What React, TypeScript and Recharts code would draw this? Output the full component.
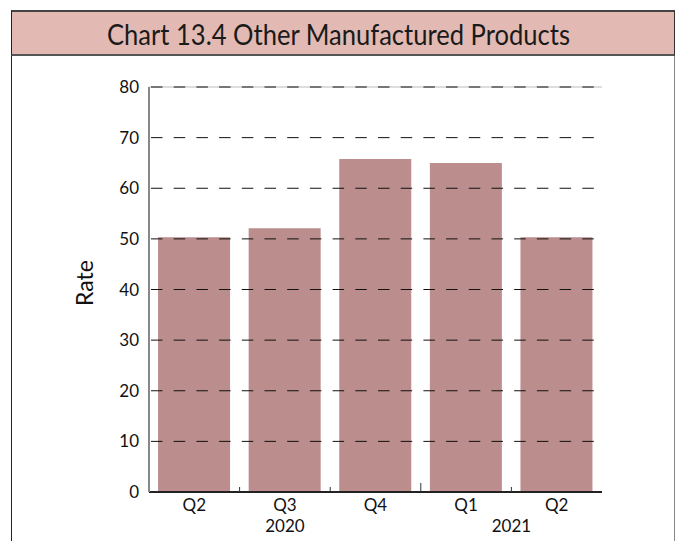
import React from 'react'
import { BarChart, Bar, XAxis, YAxis, ReferenceLine } from 'recharts'

// quarters along the bottom, with the year under them
const quarters = ['Q2', 'Q3', 'Q4', 'Q1', 'Q2']
const years = ['', '2020', '', '', '2021']
const rates = [50.3, 52.1, 65.8, 65.0, 50.3]
const yTicks = [0, 10, 20, 30, 40, 50, 60, 70, 80]

const data = quarters.map((q, i) => ({ key: `${q}-${i}`, q, year: years[i], rate: rates[i] }))

const FONT = 'Lato, "Open Sans", sans-serif'
const W = 678
const H = 541
const PLOT_LEFT = 149
const PLOT_RIGHT = 602
const PLOT_TOP = 87
const PLOT_BOTTOM = 492
const BAND = (PLOT_RIGHT - PLOT_LEFT) / quarters.length

function QuarterTick(props: any) {
  const { x, payload, index } = props
  const d = data[index]
  const right = x + BAND / 2
  // year boundary gets a taller mark
  const tall = index === 2
  return (
    <g>
      {index < quarters.length - 1 && (
        <line x1={right} x2={right} y1={PLOT_BOTTOM} y2={PLOT_BOTTOM - (tall ? 9 : 5)} stroke="#333" strokeWidth={1} />
      )}
      <text x={x} y={PLOT_BOTTOM + 19} textAnchor="middle" fontSize={17} fill="#111" fontFamily={FONT}>
        {d ? d.q : payload.value}
      </text>
      {d && d.year === '2020' && (
        <text x={x} y={PLOT_BOTTOM + 40} textAnchor="middle" fontSize={17} fill="#111" fontFamily={FONT}>
          {d.year}
        </text>
      )}
      {d && d.year === '2021' && (
        <text x={x - BAND / 2} y={PLOT_BOTTOM + 40} textAnchor="middle" fontSize={17} fill="#111" fontFamily={FONT}>
          {d.year}
        </text>
      )}
    </g>
  )
}

function RateTick(props: any) {
  const { y, payload } = props
  return (
    <text x={139} y={y + 6} textAnchor="end" fontSize={17} fill="#111" fontFamily={FONT}>
      {payload.value}
    </text>
  )
}

export default function App() {
  const midY = 283
  return (
    <div style={{ position: 'absolute', left: 0, top: 0, width: W, height: H, background: '#fff' }}>
      {/* outer frame + title band */}
      <div
        style={{
          position: 'absolute',
          left: 11,
          top: 10,
          width: 664,
          height: 46,
          background: '#e2bab3',
          borderTop: '2px solid #444',
          borderBottom: '2px solid #555',
          borderLeft: '1px solid #222',
          borderRight: '1px solid #333',
          boxSizing: 'border-box',
        }}
      />
      <svg style={{ position: 'absolute', left: 0, top: 0 }} width={W} height={60}>
        <text
          x={107}
          y={45}
          fontSize={29}
          fill="#1a1a1a"
          fontFamily={FONT}
          textLength={463}
          lengthAdjust="spacingAndGlyphs"
        >
          Chart 13.4 Other Manufactured Products
        </text>
      </svg>
      <div style={{ position: 'absolute', left: 11, top: 56, width: 1, height: H - 56, background: '#222' }} />
      <div style={{ position: 'absolute', left: 674, top: 56, width: 1, height: H - 56, background: '#888' }} />

      <div style={{ position: 'absolute', left: 0, top: 0 }}>
        <BarChart
          width={W}
          height={H}
          data={data}
          barCategoryGap="10%"
          margin={{ top: PLOT_TOP, right: W - PLOT_RIGHT, bottom: H - PLOT_BOTTOM - 45, left: PLOT_LEFT - 75 }}
        >
          <XAxis
            dataKey="key"
            height={45}
            tickLine={false}
            axisLine={{ stroke: '#222', strokeWidth: 2 }}
            tick={<QuarterTick />}
            interval={0}
          />
          <YAxis
            width={75}
            domain={[0, 80]}
            ticks={yTicks}
            interval={0}
            tickLine={false}
            axisLine={{ stroke: '#888', strokeWidth: 2 }}
            tick={<RateTick />}
            label={() => (
              <text
                x={93}
                y={midY}
                transform={`rotate(-90 93 ${midY})`}
                textAnchor="middle"
                fontSize={23}
                fill="#111"
                fontFamily={FONT}
              >
                Rate
              </text>
            )}
          />
          <YAxis
            yAxisId="right"
            orientation="right"
            width={0}
            domain={[0, 80]}
            tick={false}
            tickLine={false}
            axisLine={{ stroke: '#888', strokeWidth: 2 }}
          />
          <Bar dataKey="rate" fill="#bb8d8d" isAnimationActive={false} />
          <ReferenceLine y={80} stroke="#bbb" strokeWidth={1} />
          {yTicks
            .filter((v) => v > 0)
            .map((v) => (
              <ReferenceLine
                key={v}
                y={v}
                stroke="#111"
                strokeWidth={1}
                strokeDasharray="11.5 11.2"
                strokeDashoffset={-2}
              />
            ))}
        </BarChart>
      </div>
    </div>
  )
}
